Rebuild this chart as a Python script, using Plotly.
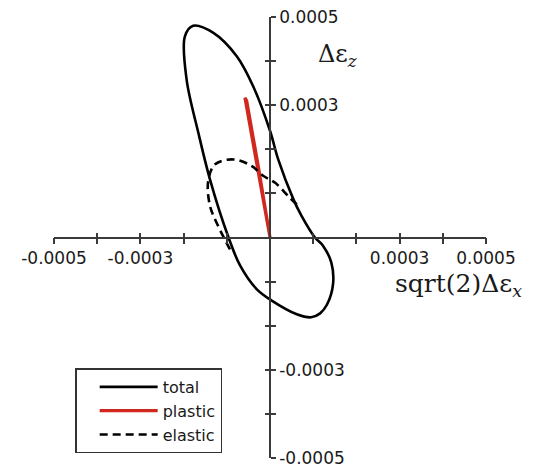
import plotly.graph_objects as go

# ---- data (strain increments) ----
TOTAL_X = [-1.78e-4, -1.31e-4, -0.77e-4, -0.39e-4, 0.0, 0.19e-4, 0.54e-4, 0.73e-4, 1.04e-4,
           1.23e-4, 1.42e-4, 1.46e-4, 1.32e-4, 1.16e-4, 0.95e-4, 0.62e-4, 0.04e-4, -0.31e-4, -0.69e-4,
           -0.96e-4, -1.39e-4, -1.66e-4, -1.93e-4, -1.97e-4, -1.78e-4]
TOTAL_Y = [4.80e-4, 4.64e-4, 4.11e-4, 3.43e-4, 2.42e-4, 1.77e-4, 0.87e-4, 0.49e-4, 0.0,
           -0.19e-4, -0.57e-4, -1.05e-4, -1.52e-4, -1.72e-4, -1.81e-4, -1.74e-4, -1.43e-4, -1.17e-4, -0.64e-4,
           0.0, 1.32e-4, 2.38e-4, 3.58e-4, 4.56e-4, 4.80e-4]

PLASTIC_X = [0.0, -0.29e-4, -0.58e-4, -0.54e-4, -0.26e-4, 0.0]
PLASTIC_Y = [0.0, 1.60e-4, 3.17e-4, 3.10e-4, 1.55e-4, 0.0]

ELASTIC_X = [0.62e-4, 0.46e-4, 0.12e-4, -0.16e-4, -0.42e-4, -0.85e-4, -1.27e-4, -1.43e-4,
             -1.39e-4, -1.20e-4, -0.89e-4]
ELASTIC_Y = [0.75e-4, 0.90e-4, 1.24e-4, 1.40e-4, 1.62e-4, 1.77e-4, 1.66e-4, 1.28e-4,
             0.72e-4, 0.26e-4, -0.34e-4]

AX_RANGE = [-0.0005, 0.0005]
TICK_VALS = [-0.0005, -0.0004, -0.0003, -0.0002, -0.0001, 0.0, 0.0001, 0.0002, 0.0003, 0.0004, 0.0005]
LABEL_VALS = [-0.0005, -0.0003, 0.0003, 0.0005]
LABEL_TEXT = ["-0.0005", "-0.0003", "0.0003", "0.0005"]

AX_COLOR = "#3a3a3a"
TICK_FONT = dict(family="DejaVu Sans", size=17, color="#1a1a1a")

fig = go.Figure()
fig.add_trace(go.Scatter(x=TOTAL_X, y=TOTAL_Y, mode="lines", name="total",
                         line=dict(color="black", width=2.6, shape="spline", smoothing=1.0)))
fig.add_trace(go.Scatter(x=PLASTIC_X, y=PLASTIC_Y, mode="lines", name="plastic",
                         line=dict(color="#d0281e", width=3.2)))
fig.add_trace(go.Scatter(x=ELASTIC_X, y=ELASTIC_Y, mode="lines", name="elastic",
                         line=dict(color="black", width=2.6, dash="8px,5px", shape="spline", smoothing=1.0)))
# helper traces for the overlaid axes that carry the cross-shaped minor/major ticks
fig.add_trace(go.Scatter(x=[], y=[], xaxis="x2", yaxis="y2", showlegend=False, hoverinfo="skip"))
fig.add_trace(go.Scatter(x=[], y=[], xaxis="x3", yaxis="y3", showlegend=False, hoverinfo="skip"))

base = dict(range=AX_RANGE, showgrid=False, zeroline=False, tickcolor=AX_COLOR,
            tickwidth=1.6, ticklen=5, fixedrange=True, automargin=False,
            anchor="free", position=0.5)
tick_only = dict(base, tickvals=TICK_VALS, showticklabels=False, showline=False)

# the page body adds an 8px offset, so margins are reduced on the left/top accordingly
fig.update_layout(
    width=533, height=468,
    margin=dict(l=46, r=55, t=9, b=18),
    paper_bgcolor="white", plot_bgcolor="white",
    xaxis=dict(base, side="bottom", ticks="outside", tickvals=LABEL_VALS, ticktext=LABEL_TEXT,
               tickfont=TICK_FONT, showline=True, linecolor=AX_COLOR, linewidth=1.6,
               ticklabeloverflow="allow"),
    yaxis=dict(base, side="right", ticks="outside", tickvals=LABEL_VALS, ticktext=LABEL_TEXT,
               tickfont=TICK_FONT, showline=True, linecolor=AX_COLOR, linewidth=1.6,
               ticklabeloverflow="allow"),
    xaxis2=dict(tick_only, overlaying="x", side="bottom", ticks="inside"),
    yaxis2=dict(tick_only, overlaying="y", side="right", ticks="inside"),
    xaxis3=dict(tick_only, overlaying="x", side="bottom", ticks="outside"),
    yaxis3=dict(tick_only, overlaying="y", side="right", ticks="outside"),
    showlegend=True,
    legend=dict(x=0.049, y=0.203, xanchor="left", yanchor="top",
                bordercolor="#333333", borderwidth=1.5, bgcolor="white",
                font=dict(family="DejaVu Sans", size=16, color="#1a1a1a"),
                itemwidth=58, indentation=18, tracegroupgap=0),
    annotations=[
        dict(text="sqrt(2)Δε<sub><i>x</i></sub>", xref="paper", yref="paper",
             x=0.785, y=0.393, xanchor="left", yanchor="middle", showarrow=False,
             font=dict(family="DejaVu Serif", size=25, color="#1a1a1a")),
        dict(text="Δε<sub><i>z</i></sub>", xref="paper", yref="paper",
             x=0.606, y=0.912, xanchor="left", yanchor="middle", showarrow=False,
             font=dict(family="DejaVu Serif", size=24, color="#1a1a1a")),
    ],
)

fig.write_html("out.html")
